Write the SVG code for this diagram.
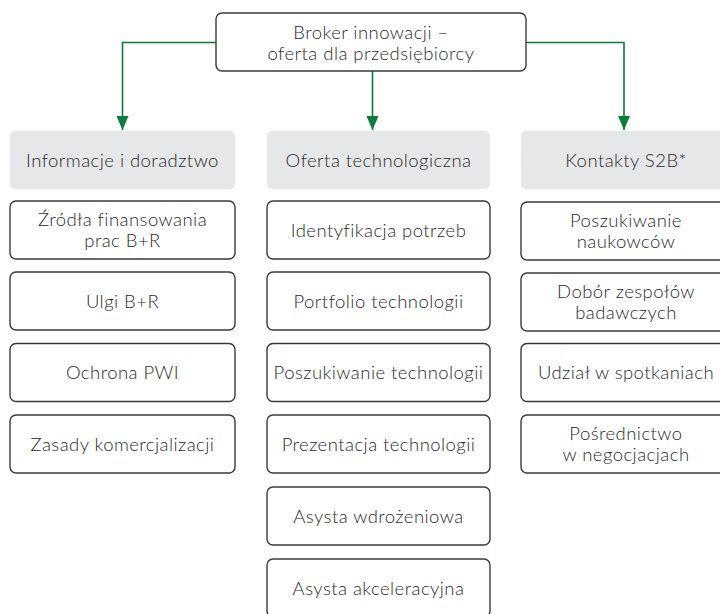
<svg xmlns="http://www.w3.org/2000/svg" width="720" height="614" viewBox="0 0 720 614">
<defs>
<marker id="arr" markerWidth="14" markerHeight="12" refX="14" refY="6" orient="auto" markerUnits="userSpaceOnUse" viewBox="0 0 14 12">
<path d="M0,0 L14,6 L0,12 Z" fill="#0b7a3b"/>
</marker>
<style>
.box{fill:#fff;stroke:#3a3a3a;stroke-width:1.4}
.hdr{fill:#e6e7e8;stroke:none}
text{font-family:Lato,"Noto Sans","Liberation Sans",sans-serif;font-size:18.5px;letter-spacing:0.45px;font-weight:300;fill:#2a2a2a;text-anchor:middle}
.con{fill:none;stroke:#0b7a3b;stroke-width:1.6}
</style>
</defs>
<rect width="720" height="614" fill="#fff"/>
<g id="connectors">
<path class="con" d="M216,42.5 H122.5 V130" marker-end="url(#arr)"/>
<path class="con" d="M372.5,71 V130" marker-end="url(#arr)"/>
<path class="con" d="M526,42.5 H624 V130" marker-end="url(#arr)"/>
</g>
<g id="root"><rect class="box" x="216" y="13" width="310" height="58" rx="6"/><text x="371" y="39">Broker innowacji –</text><text x="371" y="60">oferta dla przedsiębiorcy</text></g>
<g id="h1"><rect class="hdr" x="10" y="131" width="225" height="58" rx="5"/><text x="122.5" y="167">Informacje i doradztwo</text></g>
<g id="h2"><rect class="hdr" x="267" y="131" width="223" height="58" rx="5"/><text x="378.5" y="167">Oferta technologiczna</text></g>
<g id="h3"><rect class="hdr" x="521" y="131" width="215" height="58" rx="5"/><text x="626" y="167">Kontakty S2B*</text></g>
<g id="l1"><rect class="box" x="10" y="201" width="225" height="58" rx="6"/><text x="122.5" y="225.5">Źródła finansowania</text><text x="122.5" y="246.5">prac B+R</text></g>
<g id="l2"><rect class="box" x="10" y="272" width="225" height="58" rx="6"/><text x="122.5" y="307.5">Ulgi B+R</text></g>
<g id="l3"><rect class="box" x="10" y="343.5" width="225" height="58" rx="6"/><text x="122.5" y="379">Ochrona PWI</text></g>
<g id="l4"><rect class="box" x="10" y="415" width="225" height="58" rx="6"/><text x="122.5" y="450.5">Zasady komercjalizacji</text></g>
<g id="m1"><rect class="box" x="267" y="201" width="223" height="58" rx="6"/><text x="378.5" y="236.5">Identyfikacja potrzeb</text></g>
<g id="m2"><rect class="box" x="267" y="272" width="223" height="58" rx="6"/><text x="378.5" y="307.5">Portfolio technologii</text></g>
<g id="m3"><rect class="box" x="267" y="343.5" width="223" height="58" rx="6"/><text x="378.5" y="379">Poszukiwanie technologii</text></g>
<g id="m4"><rect class="box" x="267" y="415" width="223" height="58" rx="6"/><text x="378.5" y="450.5">Prezentacja technologii</text></g>
<g id="m5"><rect class="box" x="267" y="487" width="223" height="58" rx="6"/><text x="378.5" y="522.5">Asysta wdrożeniowa</text></g>
<g id="m6"><rect class="box" x="267" y="559" width="223" height="58" rx="6"/><text x="378.5" y="594.5">Asysta akceleracyjna</text></g>
<g id="r1"><rect class="box" x="521" y="202" width="215" height="58" rx="6"/><text x="626" y="226.5">Poszukiwanie</text><text x="626" y="247.5">naukowców</text></g>
<g id="r2"><rect class="box" x="521" y="273" width="215" height="58" rx="6"/><text x="626" y="297.5">Dobór zespołów</text><text x="626" y="318.5">badawczych</text></g>
<g id="r3"><rect class="box" x="521" y="343.5" width="215" height="58" rx="6"/><text x="626" y="379">Udział w spotkaniach</text></g>
<g id="r4"><rect class="box" x="521" y="415" width="215" height="58" rx="6"/><text x="626" y="439.5">Pośrednictwo</text><text x="626" y="460.5">w negocjacjach</text></g>
</svg>
